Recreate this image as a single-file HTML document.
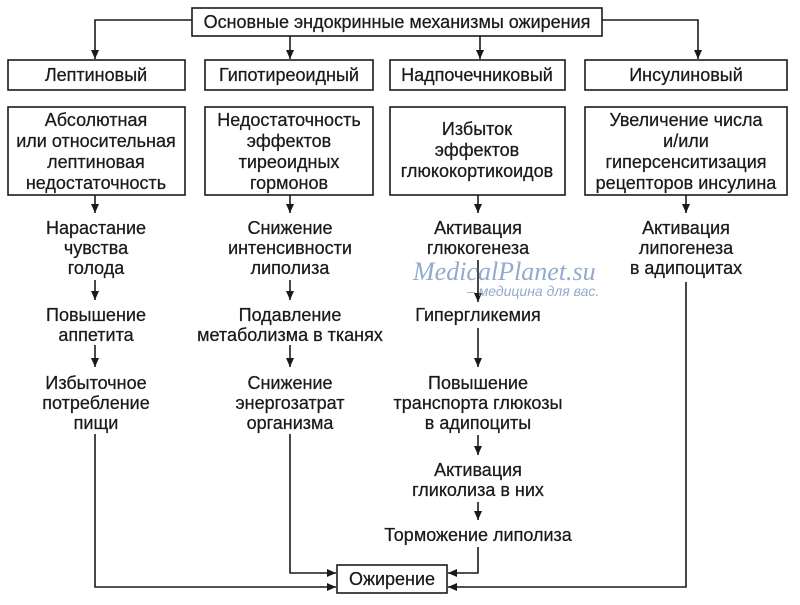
<!DOCTYPE html>
<html><head><meta charset="utf-8"><style>
html,body{margin:0;padding:0;background:#fff;}
svg text{font-family:"Liberation Sans",sans-serif;font-size:18px;fill:#1a1a1a;stroke:#1a1a1a;stroke-width:0.25;text-anchor:middle;}
</style></head><body>
<svg width="800" height="600" viewBox="0 0 800 600" xmlns="http://www.w3.org/2000/svg">
<defs><marker id="a" markerWidth="10" markerHeight="10" refX="9" refY="5" orient="auto" markerUnits="userSpaceOnUse"><path d="M0,1 L9,5 L0,9 z" fill="#1a1a1a"/></marker></defs>
<g fill="none" stroke="#1a1a1a" stroke-width="1.6">
<rect x="192" y="8" width="410" height="28"/>
<rect x="8" y="60" width="177" height="30"/>
<rect x="205" y="60" width="168" height="30"/>
<rect x="390" y="60" width="175" height="30"/>
<rect x="585" y="60" width="202" height="30"/>
<rect x="8" y="107" width="177" height="88"/>
<rect x="205" y="107" width="168" height="88"/>
<rect x="390" y="107" width="175" height="88"/>
<rect x="585" y="107" width="202" height="88"/>
<rect x="337" y="565" width="110" height="28"/>
<path d="M192,20 H95 V59" marker-end="url(#a)"/>
<path d="M602,20 H698 V59" marker-end="url(#a)"/>
<path d="M290,36 V59" marker-end="url(#a)"/>
<path d="M480,36 V59" marker-end="url(#a)"/>
<path d="M95,195 V213" marker-end="url(#a)"/>
<path d="M290,195 V213" marker-end="url(#a)"/>
<path d="M478,195 V213" marker-end="url(#a)"/>
<path d="M686,195 V213" marker-end="url(#a)"/>
<path d="M95,280 V300" marker-end="url(#a)"/>
<path d="M95,345 V367" marker-end="url(#a)"/>
<path d="M290,280 V300" marker-end="url(#a)"/>
<path d="M290,345 V367" marker-end="url(#a)"/>
<path d="M478,260 V302" marker-end="url(#a)"/>
<path d="M478,328 V367" marker-end="url(#a)"/>
<path d="M478,435 V455" marker-end="url(#a)"/>
<path d="M478,502 V520" marker-end="url(#a)"/>
<path d="M95,434 V587 H336" marker-end="url(#a)"/>
<path d="M290,434 V573 H336" marker-end="url(#a)"/>
<path d="M478,547 V573 H448" marker-end="url(#a)"/>
<path d="M686,282 V587 H448" marker-end="url(#a)"/>
</g>
<text x="397" y="28">Основные эндокринные механизмы ожирения</text>
<text x="96" y="81">Лептиновый</text>
<text x="289" y="81">Гипотиреоидный</text>
<text x="477" y="81">Надпочечниковый</text>
<text x="686" y="81">Инсулиновый</text>
<text x="96" y="126">Абсолютная</text>
<text x="96" y="147">или относительная</text>
<text x="96" y="168">лептиновая</text>
<text x="96" y="189">недостаточность</text>
<text x="289" y="126">Недостаточность</text>
<text x="289" y="147">эффектов</text>
<text x="289" y="168">тиреоидных</text>
<text x="289" y="189">гормонов</text>
<text x="477" y="135">Избыток</text>
<text x="477" y="156">эффектов</text>
<text x="477" y="177">глюкокортикоидов</text>
<text x="686" y="126">Увеличение числа</text>
<text x="686" y="147">и/или</text>
<text x="686" y="168">гиперсенситизация</text>
<text x="686" y="189">рецепторов инсулина</text>
<text x="96" y="234">Нарастание</text>
<text x="96" y="254">чувства</text>
<text x="96" y="274">голода</text>
<text x="96" y="321">Повышение</text>
<text x="96" y="341">аппетита</text>
<text x="96" y="389">Избыточное</text>
<text x="96" y="409">потребление</text>
<text x="96" y="429">пищи</text>
<text x="290" y="234">Снижение</text>
<text x="290" y="254">интенсивности</text>
<text x="290" y="274">липолиза</text>
<text x="290" y="321">Подавление</text>
<text x="290" y="341">метаболизма в тканях</text>
<text x="290" y="389">Снижение</text>
<text x="290" y="409">энергозатрат</text>
<text x="290" y="429">организма</text>
<text x="478" y="234">Активация</text>
<text x="478" y="254">глюкогенеза</text>
<text x="478" y="321">Гипергликемия</text>
<text x="478" y="389">Повышение</text>
<text x="478" y="409">транспорта глюкозы</text>
<text x="478" y="429">в адипоциты</text>
<text x="478" y="476">Активация</text>
<text x="478" y="496">гликолиза в них</text>
<text x="478" y="541">Торможение липолиза</text>
<text x="686" y="234">Активация</text>
<text x="686" y="254">липогенеза</text>
<text x="686" y="274">в адипоцитах</text>
<text x="392" y="585">Ожирение</text>
<text x="413" y="280" style="font-family:'Liberation Serif',serif;font-style:italic;font-size:26px;fill:#7f9cc4;stroke:none;text-anchor:start;opacity:0.85">MedicalPlanet.su</text>
<text x="467" y="296" style="font-style:italic;font-size:14px;fill:#7f9cc4;stroke:none;text-anchor:start;opacity:0.85">– медицина для вас.</text>
</svg>
</body></html>
